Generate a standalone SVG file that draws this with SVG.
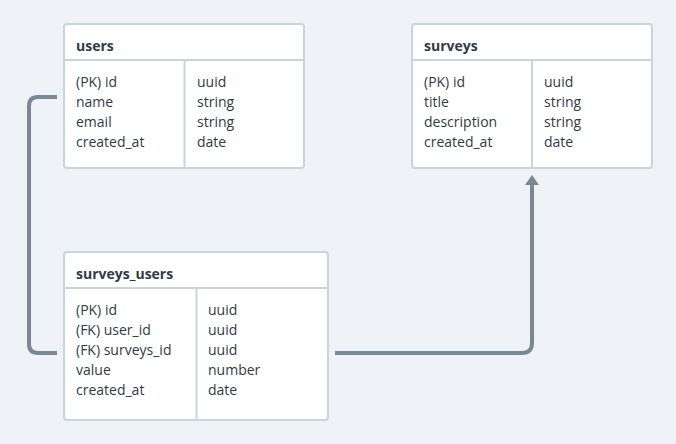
<svg xmlns="http://www.w3.org/2000/svg" width="676" height="444" viewBox="0 0 676 444">
<style>
.box{fill:#fff;stroke:#c9d4dd;stroke-width:2}
.ln{stroke:#c9d4dd;stroke-width:2;fill:none}
.t{font-family:"Open Sans","Noto Sans",sans-serif;font-size:14px;fill:#2f3b47}
.h{font-family:"Open Sans","Noto Sans",sans-serif;font-size:14px;font-weight:bold;fill:#2f3b47}
.c{fill:none;stroke:#7a8795;stroke-width:4;stroke-linejoin:round}
</style>
<defs>
<marker id="arr" markerWidth="14" markerHeight="10" refX="1" refY="5" orient="auto" markerUnits="userSpaceOnUse">
<path d="M0,0 L10,5 L0,10 Z" fill="#7a8795"/>
</marker>
</defs>
<rect width="676" height="444" fill="#eff2f6"/>
<g id="connectors">
<path class="c" d="M57,97 H38 Q29,97 29,106 V344 Q29,353 38,353 H57"/>
<path class="c" d="M335,353 H522 Q532,353 532,343 V185"/>
<path d="M525,185 L532,175 L539,185 Z" fill="#7a8795"/>
</g>
<g id="users">
<rect class="box" x="64" y="24" width="240" height="144" rx="3"/>
<line class="ln" x1="64" y1="60" x2="304" y2="60"/>
<line class="ln" x1="184.5" y1="60" x2="184.5" y2="168"/>
<text class="h" x="76" y="51">users</text>
<text class="t" x="76" y="87">(PK) id</text>
<text class="t" x="76" y="107">name</text>
<text class="t" x="76" y="127">email</text>
<text class="t" x="76" y="147">created_at</text>
<text class="t" x="197" y="87">uuid</text>
<text class="t" x="197" y="107">string</text>
<text class="t" x="197" y="127">string</text>
<text class="t" x="197" y="147">date</text>
</g>
<g id="surveys">
<rect class="box" x="412" y="24" width="240" height="144" rx="3"/>
<line class="ln" x1="412" y1="60" x2="652" y2="60"/>
<line class="ln" x1="532" y1="60" x2="532" y2="168"/>
<text class="h" x="424" y="51">surveys</text>
<text class="t" x="424" y="87">(PK) id</text>
<text class="t" x="424" y="107">title</text>
<text class="t" x="424" y="127">description</text>
<text class="t" x="424" y="147">created_at</text>
<text class="t" x="544" y="87">uuid</text>
<text class="t" x="544" y="107">string</text>
<text class="t" x="544" y="127">string</text>
<text class="t" x="544" y="147">date</text>
</g>
<g id="surveys_users">
<rect class="box" x="64" y="252" width="264" height="168" rx="3"/>
<line class="ln" x1="64" y1="288" x2="328" y2="288"/>
<line class="ln" x1="196.5" y1="288" x2="196.5" y2="420"/>
<text class="h" x="76" y="279">surveys_users</text>
<text class="t" x="76" y="315">(PK) id</text>
<text class="t" x="76" y="335">(FK) user_id</text>
<text class="t" x="76" y="355">(FK) surveys_id</text>
<text class="t" x="76" y="375">value</text>
<text class="t" x="76" y="395">created_at</text>
<text class="t" x="208" y="315">uuid</text>
<text class="t" x="208" y="335">uuid</text>
<text class="t" x="208" y="355">uuid</text>
<text class="t" x="208" y="375">number</text>
<text class="t" x="208" y="395">date</text>
</g>
</svg>
